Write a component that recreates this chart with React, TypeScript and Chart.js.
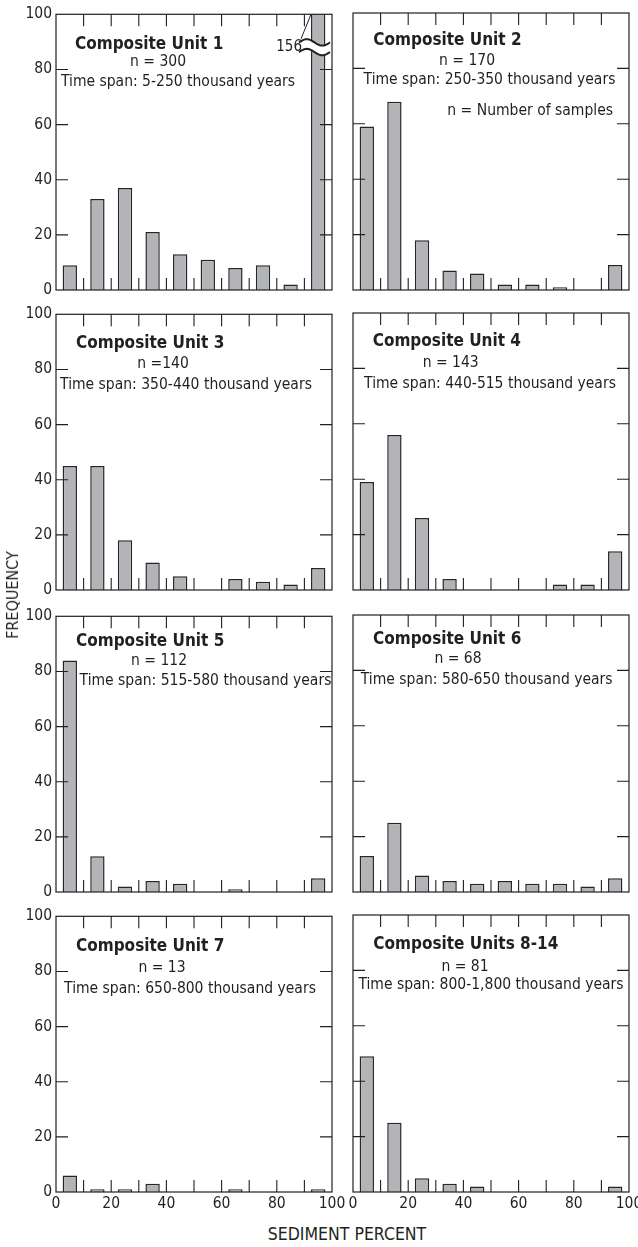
import React, { useEffect, useRef } from 'react';
import { Chart, registerables } from 'chart.js';

Chart.register(...registerables);

// ---------- data ----------
const binCenters = [5, 15, 25, 35, 45, 55, 65, 75, 85, 95];
const unit1 = [9, 33, 37, 21, 13, 11, 8, 9, 2, 156];
const unit2 = [59, 68, 18, 7, 6, 2, 2, 1, 0, 9];
const unit3 = [45, 45, 18, 10, 5, 0, 4, 3, 2, 8];
const unit4 = [39, 56, 26, 4, 0, 0, 0, 2, 2, 14];
const unit5 = [84, 13, 2, 4, 3, 0, 1, 0, 0, 5];
const unit6 = [13, 25, 6, 4, 3, 4, 3, 3, 2, 5];
const unit7 = [6, 1, 1, 3, 0, 0, 1, 0, 0, 1];
const units8to14 = [49, 25, 5, 3, 2, 0, 0, 0, 0, 2];

const titles = [
  'Composite Unit 1', 'Composite Unit 2', 'Composite Unit 3', 'Composite Unit 4',
  'Composite Unit 5', 'Composite Unit 6', 'Composite Unit 7', 'Composite Units 8-14',
];
const nLabels = ['n = 300', 'n = 170', 'n =140', 'n = 143', 'n = 112', 'n = 68', 'n = 13', 'n = 81'];
const spans = [
  'Time span: 5-250 thousand years', 'Time span: 250-350 thousand years',
  'Time span: 350-440 thousand years', 'Time span: 440-515 thousand years',
  'Time span: 515-580 thousand years', 'Time span: 580-650 thousand years',
  'Time span: 650-800 thousand years', 'Time span: 800-1,800 thousand years',
];
const noteText = 'n = Number of samples';
const yTickStep = 20;
const xTickStep = 20;
const minorStep = 10;
const axisMin = 0;
const axisMax = 100;
const yAxisTitle = 'FREQUENCY';
const xAxisTitle = 'SEDIMENT PERCENT';
const brokenLabel = '156';

const seriesList = [unit1, unit2, unit3, unit4, unit5, unit6, unit7, units8to14];

// ---------- layout / style ----------
const FONT = "'Liberation Sans Narrow', 'DejaVu Sans Condensed', 'Arial Narrow', 'Liberation Sans', sans-serif";
const INK = '#231f20';
const BAR_FILL = '#b3b4b7';
const BAR_EDGE = '#262626';
const COL_LEFT = [56, 353];
const ROW_TOP = [12.5, 313, 615, 915];
const PLOT_W = 276;
const PLOT_H = 277;
const Y_AXIS_W = 44;
const X_AXIS_H = 30;
const PAD_TOP = 12;
const PAD_RIGHT = 24;
const TICK_LEN = 12;

type XY = [number, number];
const textPos: { title: XY; n: XY; span: XY; note?: XY }[] = [
  { title: [19, 30], n: [102, 47.3], span: [122, 67.3] },
  { title: [20.3, 28], n: [114, 48], span: [136.5, 67.3], note: [260, 98.3] },
  { title: [20, 29], n: [107, 49.6], span: [130, 70.6] },
  { title: [19.7, 29], n: [97.7, 49.6], span: [137, 70.6] },
  { title: [20, 25], n: [103, 45], span: [149.5, 64.3] },
  { title: [20, 25], n: [105, 44], span: [133.7, 65] },
  { title: [20, 30], n: [106, 51.7], span: [134, 72.7] },
  { title: [20.3, 30], n: [112, 51.7], span: [138, 70] },
];

function wave(ctx: CanvasRenderingContext2D, x0: number, x1: number, yc: number, amp: number) {
  const steps = 24;
  for (let i = 0; i <= steps; i++) {
    const t = i / steps;
    const x = x0 + (x1 - x0) * t;
    const y = yc - amp * Math.sin(2 * Math.PI * t);
    if (i === 0) ctx.moveTo(x, y);
    else ctx.lineTo(x, y);
  }
}

function Panel({ idx }: { idx: number }) {
  const ref = useRef<HTMLCanvasElement>(null);
  const col = idx % 2;
  const row = Math.floor(idx / 2);
  const showY = col === 0;
  const showX = row === 3;
  const W = Y_AXIS_W + PLOT_W + PAD_RIGHT;
  const H = PAD_TOP + PLOT_H + X_AXIS_H;
  const left = COL_LEFT[col] - Y_AXIS_W;
  const top = ROW_TOP[row] - PAD_TOP;

  useEffect(() => {
    const values = seriesList[idx];
    const tp = textPos[idx];
    const decor = {
      id: 'decor' + idx,
      afterDatasetsDraw(chart: any) {
        const { ctx, chartArea: ca, scales } = chart;
        const xs = scales.x;
        const ys = scales.y;
        ctx.save();
        // broken bar marker
        if (idx === 0) {
          const el = chart.getDatasetMeta(0).data[9];
          const bl = el.x - el.width / 2;
          const br = el.x + el.width / 2;
          const y1 = ys.getPixelForValue(89.8);
          const y2 = ys.getPixelForValue(86.3);
          const x0 = bl - 12;
          const x1 = ca.right - 2;
          ctx.save();
          ctx.beginPath();
          ctx.rect(bl - 1, y1 - 6, br - bl + 2, y2 - y1 + 12);
          ctx.clip();
          ctx.beginPath();
          wave(ctx, x0, x1, y1, 3.2);
          const steps = 24;
          for (let i = steps; i >= 0; i--) {
            const t = i / steps;
            ctx.lineTo(x0 + (x1 - x0) * t, y2 - 3.2 * Math.sin(2 * Math.PI * t));
          }
          ctx.closePath();
          ctx.fillStyle = '#ffffff';
          ctx.fill();
          ctx.restore();
          ctx.strokeStyle = INK;
          ctx.lineWidth = 2;
          ctx.beginPath();
          wave(ctx, x0, x1, y1, 3.2);
          ctx.stroke();
          ctx.beginPath();
          wave(ctx, x0, x1, y2, 3.2);
          ctx.stroke();
          // label + leader
          ctx.lineWidth = 1;
          ctx.beginPath();
          ctx.moveTo(bl - 10, ca.top + 24.5);
          ctx.lineTo(bl, ca.top);
          ctx.stroke();
          ctx.fillStyle = INK;
          ctx.font = `15px ${FONT}`;
          ctx.textAlign = 'right';
          ctx.textBaseline = 'middle';
          ctx.fillText(brokenLabel, bl - 9, ca.top + 32.5);
        }
        // frame
        ctx.strokeStyle = INK;
        ctx.lineWidth = 1.2;
        ctx.strokeRect(ca.left, ca.top, ca.right - ca.left, ca.bottom - ca.top);
        // inward ticks
        ctx.lineWidth = 1.1;
        ctx.beginPath();
        for (let v = axisMin + minorStep; v < axisMax; v += minorStep) {
          const px = xs.getPixelForValue(v);
          ctx.moveTo(px, ca.top);
          ctx.lineTo(px, ca.top + TICK_LEN);
          ctx.moveTo(px, ca.bottom);
          ctx.lineTo(px, ca.bottom - TICK_LEN);
        }
        for (let v = axisMin + yTickStep; v < axisMax; v += yTickStep) {
          const py = ys.getPixelForValue(v);
          ctx.moveTo(ca.left, py);
          ctx.lineTo(ca.left + TICK_LEN, py);
          ctx.moveTo(ca.right, py);
          ctx.lineTo(ca.right - TICK_LEN, py);
        }
        ctx.stroke();
        // texts
        ctx.fillStyle = INK;
        ctx.textBaseline = 'middle';
        ctx.font = `bold 17px ${FONT}`;
        ctx.textAlign = 'left';
        ctx.fillText(titles[idx], ca.left + tp.title[0], ca.top + tp.title[1]);
        ctx.font = `15.5px ${FONT}`;
        ctx.textAlign = 'center';
        ctx.fillText(nLabels[idx], ca.left + tp.n[0], ca.top + tp.n[1]);
        ctx.fillText(spans[idx], ca.left + tp.span[0], ca.top + tp.span[1]);
        if (tp.note) {
          ctx.textAlign = 'right';
          ctx.fillText(noteText, ca.left + tp.note[0], ca.top + tp.note[1]);
        }
        ctx.restore();
      },
    };

    const chart = new Chart(ref.current!, {
      type: 'bar',
      data: {
        datasets: [
          {
            data: binCenters.map((x, i) => ({ x, y: values[i] })),
            backgroundColor: BAR_FILL,
            borderColor: BAR_EDGE,
            borderWidth: 1.5,
            categoryPercentage: 1,
            barPercentage: 0.52,
          } as any,
        ],
      },
      options: {
        responsive: false,
        animation: false,
        devicePixelRatio: 1,
        layout: { padding: { top: PAD_TOP, right: PAD_RIGHT, left: 0, bottom: 0 } },
        plugins: { legend: { display: false }, tooltip: { enabled: false }, title: { display: false } },
        scales: {
          x: {
            type: 'linear',
            min: axisMin,
            max: axisMax,
            offset: false,
            grid: { display: false, drawTicks: false },
            border: { display: false },
            ticks: {
              display: showX,
              stepSize: xTickStep,
              padding: 3,
              maxRotation: 0,
              autoSkip: false,
              color: INK,
              font: { family: FONT, size: 15.5 },
            },
            afterFit: (s: any) => { s.height = X_AXIS_H; },
          },
          y: {
            type: 'linear',
            min: axisMin,
            max: axisMax,
            grid: { display: false, drawTicks: false },
            border: { display: false },
            ticks: {
              display: showY,
              stepSize: yTickStep,
              padding: 4,
              color: INK,
              font: { family: FONT, size: 15.5 },
            },
            afterFit: (s: any) => { s.width = Y_AXIS_W; },
          },
        },
      } as any,
      plugins: [decor],
    });
    return () => chart.destroy();
  }, []);

  return (
    <canvas
      ref={ref}
      width={W}
      height={H}
      style={{ position: 'absolute', left, top, width: W, height: H }}
    />
  );
}

export default function App() {
  return (
    <div style={{ position: 'absolute', left: 0, top: 0, width: 638, height: 1247, background: '#ffffff', overflow: 'hidden' }}>
      {seriesList.map((_, i) => (
        <Panel key={i} idx={i} />
      ))}
      <div
        style={{
          position: 'absolute', left: 13, top: 595, transform: 'translate(-50%, -50%) rotate(-90deg)',
          fontFamily: FONT, fontSize: 16, color: INK, whiteSpace: 'nowrap', lineHeight: 1,
        }}
      >
        {yAxisTitle}
      </div>
      <div
        style={{
          position: 'absolute', left: 347, top: 1235, transform: 'translate(-50%, -50%)',
          fontFamily: FONT, fontSize: 17.5, color: INK, whiteSpace: 'nowrap', lineHeight: 1,
        }}
      >
        {xAxisTitle}
      </div>
    </div>
  );
}
